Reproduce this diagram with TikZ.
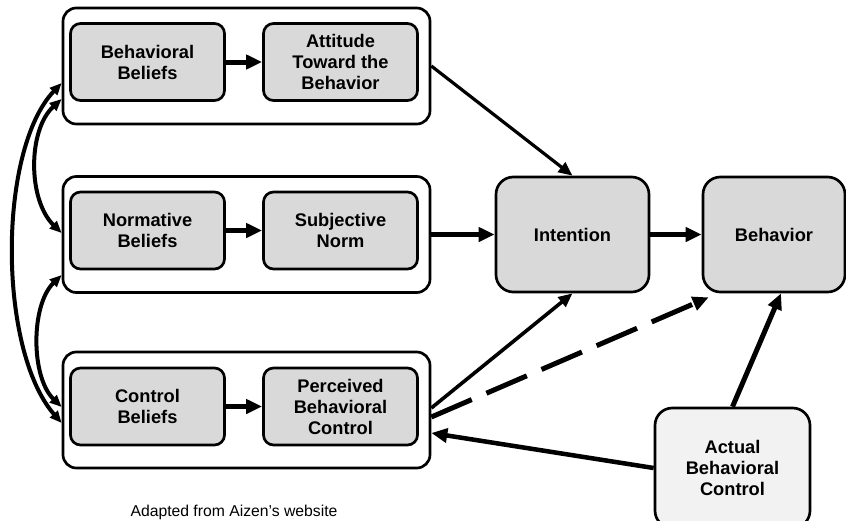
\documentclass[tikz,border=0pt]{standalone}
\usepackage{fontspec}
\setmainfont{Liberation Sans}
\usetikzlibrary{positioning, calc}
\usetikzlibrary{arrows.meta}
\definecolor{boxgray}{HTML}{D9D9D9}
\definecolor{actgray}{HTML}{F2F2F2}
\newcommand{\lblfont}{\fontsize{13.7}{15.75}\selectfont\bfseries}

\begin{document}
\begin{tikzpicture}[x=0.75pt,y=-0.75pt,
    grp/.style={draw,line width=2pt,rounded corners=10pt,minimum width=275.25pt,minimum height=87pt},
    box/.style={draw,line width=2pt,rounded corners=7.5pt,fill=boxgray,minimum width=115.5pt,minimum height=57.75pt,align=center,inner sep=0pt,font=\lblfont},
    bigbox/.style={box,rounded corners=13pt,minimum height=86.25pt},
    arr/.style={line width=3.75pt,-{Triangle[length=12pt,width=10.5pt]}},
    thinarr/.style={line width=2.4pt,-{Triangle[length=10.5pt,width=9pt]}},
    bothway/.style={line width=3pt,{Triangle[length=9pt,width=7.5pt]}-{Triangle[length=9pt,width=7.5pt]}}]
                \useasboundingbox (0,0) rectangle (846,521);
                % groups
                \node[grp] (g1) at (246.5,66) {};
                \node[grp] (g2) at (246.5,234.5) {};
                \node[grp] (g3) at (246.5,410) {};
                \node[box] (bb) at (147.5,62) {Behavioral\\Beliefs};
                \node[box] (att) at (340.5,62) {Attitude\\Toward the\\Behavior};
                \node[box] (nb) at (147.5,230.5) {Normative\\Beliefs};
                \node[box] (sn) at (340.5,230.5) {Subjective\\Norm};
                \node[box] (cb) at (147.5,406.5) {Control\\Beliefs};
                \node[box] (pbc) at (340.5,406.5) {Perceived\\Behavioral\\Control};
                \node[bigbox,minimum width=114.75pt] (int) at (572.5,234.5) {Intention};
                \node[bigbox,minimum width=106.5pt] (beh) at (774,234.5) {Behavior};
                \node[bigbox,fill=actgray,minimum width=116.25pt,minimum height=90pt] (abc) at (732.5,468) {Actual\\Behavioral\\Control};
                \node[anchor=base,font=\fontsize{11.8}{14}\selectfont] (src) at (234,516) {Adapted from Aizen's website};
                % arrows
                \draw[arr] (bb) -- (att);
                \draw[arr] (nb) -- (sn);
                \draw[arr] (cb) -- (pbc);
                \draw[thinarr] (g1.east) -- (int.north);
                \draw[arr] (g2) -- (int);
                \draw[arr] (int) -- (beh);
                \draw[thinarr,line width=2.7pt] ($(g3.east)+(0,-2)$) -- (int.south);
                \draw[arr,dash pattern=on 33pt off 12pt] ($(g3.east)+(0,7)$) -- ($(beh.south west)+(7,4)$);
                \draw[arr,line width=3.4pt] (abc.west) -- ($(g3.east)+(0,23)$);
                \draw[arr] (abc.north) -- ($(beh.south)+(7,0)$);
                \draw[bothway] ($(g1.west)+(0,17)$) .. controls +(-64,67) and +(-64,-73) .. ($(g3.west)+(0,13)$);
                \draw[bothway] ($(g1.west)+(0,33)$) .. controls +(-34,31) and +(-34,-33) .. ($(g2.west)+(0,-1.5)$);
                \draw[bothway] ($(g2.west)+(0,40.5)$) .. controls +(-31,30) and +(-31,-30) .. ($(g3.west)+(0,-3)$);
            \end{tikzpicture}
\end{document}
